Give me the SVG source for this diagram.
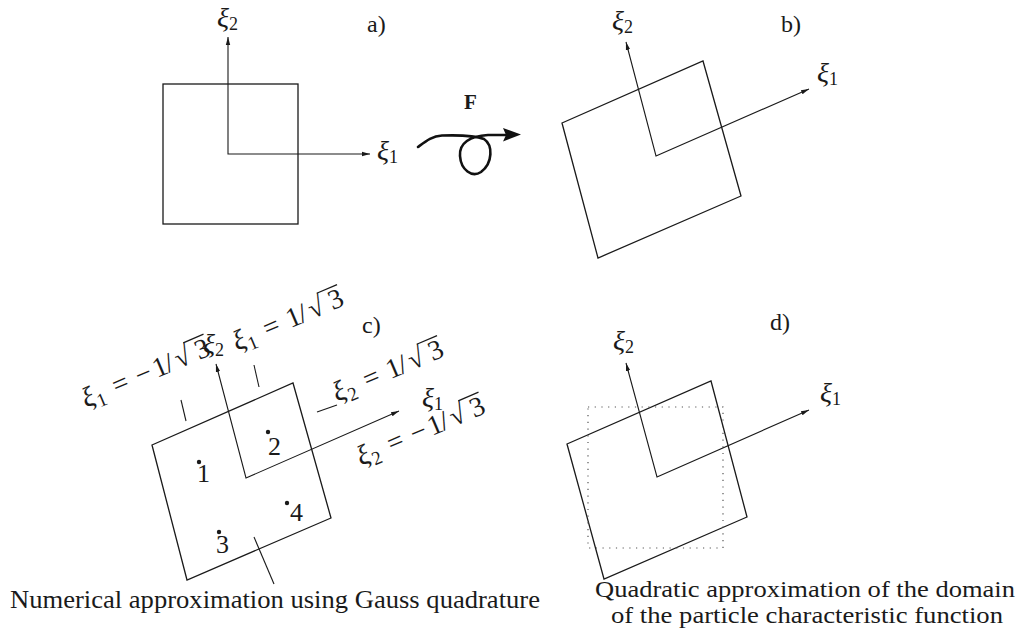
<svg xmlns="http://www.w3.org/2000/svg" width="1022" height="635" viewBox="0 0 1022 635">
<style>
.sq{fill:none;stroke:#1a1a1a;stroke-width:1.3}
.ax{fill:none;stroke:#1a1a1a;stroke-width:1.1;marker-start:url(#ah);marker-end:url(#ah)}
.tk{stroke:#1a1a1a;stroke-width:1.1}
text{font-family:'Liberation Serif','DejaVu Serif',serif;fill:#1a1a1a}
.xi{font-style:italic}
.lab{font-size:24px}
.xl{font-size:28px}
.sub{font-size:18px}
.dot{fill:#1a1a1a}
.vin{stroke:#1a1a1a;stroke-width:1.3}
</style>
<defs>
<marker id="ah" viewBox="0 0 8 6" refX="8" refY="3" markerWidth="8" markerHeight="6" markerUnits="userSpaceOnUse" orient="auto-start-reverse">
<path d="M0,0.8 L8,3 L0,5.2 Z" fill="#1a1a1a"/>
</marker>
</defs>
<rect width="1022" height="635" fill="#fff"/>

<g id="panel-a">
<rect class="sq" x="163" y="84" width="135" height="140"/>
<text class="lab" x="367" y="32" font-family="Liberation Serif, serif">a)</text>
<text x="217" y="27" font-family="Liberation Serif, serif"><tspan class="xi xl">ξ</tspan><tspan class="sub" dy="3">2</tspan></text>
<text x="377" y="160" font-family="Liberation Serif, serif"><tspan class="xi xl">ξ</tspan><tspan class="sub" dy="3">1</tspan></text>
</g>

<g id="mapping-F">
<text x="464" y="109" font-size="21" font-weight="bold" font-family="Liberation Serif, serif">F</text>
<path d="M418,147 C426,141 432,136 442,135.5 C458,135 474,135 484,139 C493,145 493,163 481,172 C472,178 461,170 460,156 C459,143 470,136 488,135 L506,135" fill="none" stroke="#111" stroke-width="2.6" stroke-linecap="round" stroke-linejoin="round"/>
<polygon points="521,134.5 503,128 506,135 503,141.5" fill="#111"/>
</g>

<g id="panel-b">
<polygon class="sq" points="562,123 703,61 741,196 598,258"/>
<text class="lab" x="781" y="32" font-family="Liberation Serif, serif">b)</text>
<text x="612" y="30" font-family="Liberation Serif, serif"><tspan class="xi xl">ξ</tspan><tspan class="sub" dy="3">2</tspan></text>
<text x="817" y="82" font-family="Liberation Serif, serif"><tspan class="xi xl">ξ</tspan><tspan class="sub" dy="3">1</tspan></text>
</g>

<g id="panel-c">
<polygon class="sq" points="152,445 293,383 331,518 187,580"/>
<text class="lab" x="362" y="333" font-family="Liberation Serif, serif">c)</text>
<text x="203" y="353" font-family="Liberation Serif, serif"><tspan class="xi xl">ξ</tspan><tspan class="sub" dy="3">2</tspan></text>
<text x="422" y="407" font-family="Liberation Serif, serif"><tspan class="xi xl">ξ</tspan><tspan class="sub" dy="3">1</tspan></text>
<g id="gauss-points">
<circle class="dot" cx="199" cy="462" r="2.2"/>
<text x="197" y="482" font-size="26" font-family="Liberation Serif, serif">1</text>
<circle class="dot" cx="268" cy="432" r="2.2"/>
<text x="268" y="455" font-size="26" font-family="Liberation Serif, serif">2</text>
<circle class="dot" cx="219" cy="532" r="2.2"/>
<text x="216" y="553" font-size="26" font-family="Liberation Serif, serif">3</text>
<circle class="dot" cx="287" cy="503" r="2.2"/>
<text x="290" y="521" font-size="26" font-family="Liberation Serif, serif">4</text>
</g>
<g transform="translate(86,408) rotate(-23)">
<text font-size="28" font-family="Liberation Serif, serif"><tspan class="xi" x="0">ξ</tspan><tspan x="13" dy="5" font-size="19">1</tspan><tspan x="33" dy="-5">=</tspan><tspan x="58">−</tspan><tspan x="77">1</tspan><tspan x="90">/</tspan><tspan x="101">√</tspan><tspan x="123">3</tspan></text>
<line class="vin" x1="115" y1="-22" x2="137" y2="-22"/>
</g>
<g transform="translate(237,351) rotate(-23)">
<text font-size="28" font-family="Liberation Serif, serif"><tspan class="xi" x="0">ξ</tspan><tspan x="13" dy="5" font-size="19">1</tspan><tspan x="33" dy="-5">=</tspan><tspan x="58">1</tspan><tspan x="71">/</tspan><tspan x="82">√</tspan><tspan x="104">3</tspan></text>
<line class="vin" x1="96" y1="-22" x2="118" y2="-22"/>
</g>
<g transform="translate(337,402) rotate(-23)">
<text font-size="28" font-family="Liberation Serif, serif"><tspan class="xi" x="0">ξ</tspan><tspan x="13" dy="5" font-size="19">2</tspan><tspan x="33" dy="-5">=</tspan><tspan x="58">1</tspan><tspan x="71">/</tspan><tspan x="82">√</tspan><tspan x="104">3</tspan></text>
<line class="vin" x1="96" y1="-22" x2="118" y2="-22"/>
</g>
<g transform="translate(361,466) rotate(-23)">
<text font-size="28" font-family="Liberation Serif, serif"><tspan class="xi" x="0">ξ</tspan><tspan x="13" dy="5" font-size="19">2</tspan><tspan x="33" dy="-5">=</tspan><tspan x="58">−</tspan><tspan x="77">1</tspan><tspan x="90">/</tspan><tspan x="101">√</tspan><tspan x="123">3</tspan></text>
<line class="vin" x1="115" y1="-22" x2="137" y2="-22"/>
</g>
<text x="275" y="608" font-size="26" font-family="Liberation Serif, serif" text-anchor="middle" textLength="530" lengthAdjust="spacingAndGlyphs">Numerical approximation using Gauss quadrature</text>
</g>

<g id="panel-d">
<polygon class="sq" points="567,444 711,381 747,517 604,579"/>
<rect x="588" y="407" width="135" height="141" fill="none" stroke="#555" stroke-width="1.2" stroke-dasharray="1.2 5.5"/>
<text class="lab" x="770" y="330" font-family="Liberation Serif, serif">d)</text>
<text x="613" y="350" font-family="Liberation Serif, serif"><tspan class="xi xl">ξ</tspan><tspan class="sub" dy="3">2</tspan></text>
<text x="820" y="402" font-family="Liberation Serif, serif"><tspan class="xi xl">ξ</tspan><tspan class="sub" dy="3">1</tspan></text>
<text x="805" y="597" font-size="24" font-family="Liberation Serif, serif" text-anchor="middle" textLength="420" lengthAdjust="spacingAndGlyphs">Quadratic approximation of the domain</text>
<text x="807" y="623" font-size="24" font-family="Liberation Serif, serif" text-anchor="middle" textLength="392" lengthAdjust="spacingAndGlyphs">of the particle characteristic function</text>
</g>

<g id="connectors">
<polyline class="ax" points="228,37 228,154 370,154"/>
<polyline class="ax" points="626,42 656,156 809,89"/>
<polyline class="ax" points="216,364 246,478 399,411"/>
<polyline class="ax" points="626,363 657,477 809,410"/>
<line class="tk" x1="181" y1="400" x2="186" y2="421"/>
<line class="tk" x1="254" y1="365" x2="259" y2="387"/>
<line class="tk" x1="317" y1="412" x2="337" y2="405"/>
<line class="tk" x1="254" y1="537" x2="274" y2="584"/>
</g>
</svg>
